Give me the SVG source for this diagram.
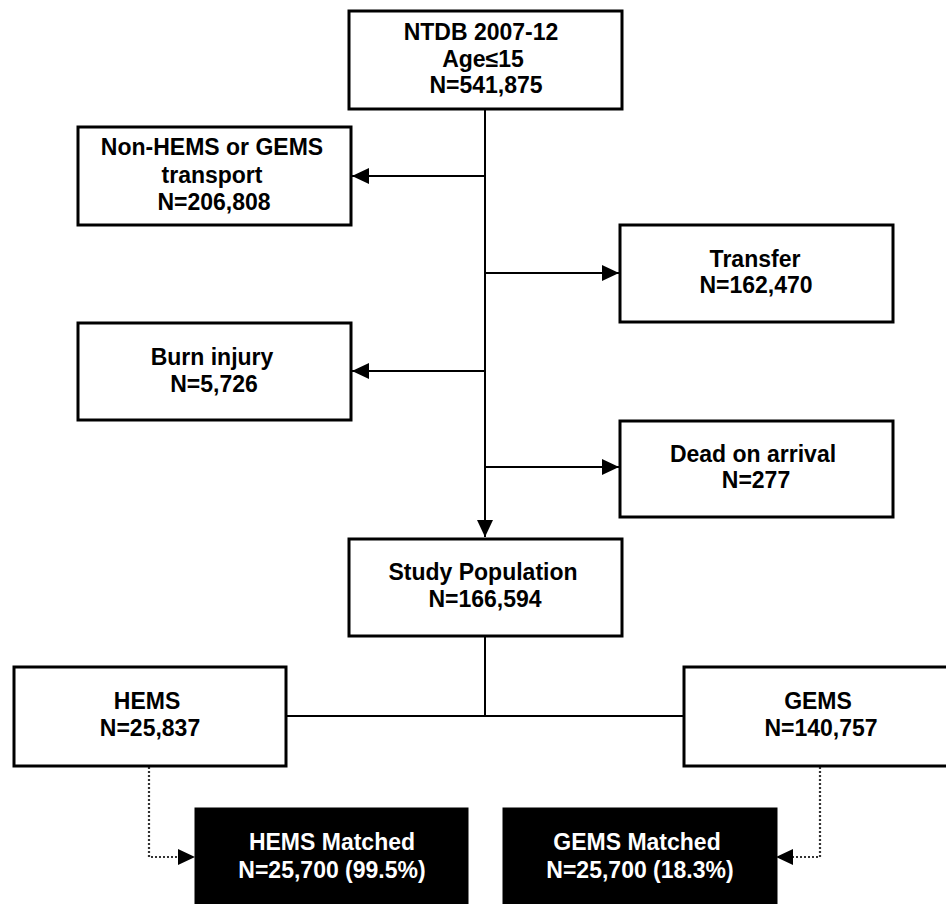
<svg xmlns="http://www.w3.org/2000/svg" width="946" height="904" viewBox="0 0 946 904">
<style>
.box{fill:#fff;stroke:#000;stroke-width:3}
.dark{fill:#000;stroke:#000;stroke-width:3}
.t{font-family:"Liberation Sans",Arial,sans-serif;font-weight:bold;font-size:23px;fill:#000;text-anchor:middle}
.w{fill:#fff}
.ln{fill:none;stroke:#000;stroke-width:2}
.dot{fill:none;stroke:#333;stroke-width:2.2;stroke-dasharray:2 2}
</style>
<defs>
<marker id="ah" markerUnits="userSpaceOnUse" markerWidth="17" markerHeight="16" refX="17" refY="8" orient="auto">
<path d="M0,0 L17,8 L0,16 Z" fill="#000"/>
</marker>
</defs>
<rect width="946" height="904" fill="#fff"/>
<g id="connectors">
<line class="ln" x1="485" y1="109" x2="485" y2="537" marker-end="url(#ah)"/>
<line class="ln" x1="485" y1="176" x2="352" y2="176" marker-end="url(#ah)"/>
<line class="ln" x1="485" y1="273" x2="619" y2="273" marker-end="url(#ah)"/>
<line class="ln" x1="485" y1="371" x2="352" y2="371" marker-end="url(#ah)"/>
<line class="ln" x1="485" y1="467" x2="619" y2="467" marker-end="url(#ah)"/>
<line class="ln" x1="485" y1="637" x2="485" y2="716"/>
<line class="ln" x1="286" y1="716" x2="683" y2="716"/>
<polyline class="dot" points="149,767 149,857 180,857"/>
<path d="M178,849 L195,857 L178,865 Z" fill="#000"/>
<polyline class="dot" points="820,767 820,857 790,857"/>
<path d="M793,849 L776,857 L793,865 Z" fill="#000"/>
</g>
<g id="ntdb">
<rect class="box" x="349" y="11" width="273" height="98"/>
<text class="t" x="481" y="40">NTDB 2007-12</text>
<text class="t" x="483" y="67">Age≤15</text>
<text class="t" x="486" y="93">N=541,875</text>
</g>
<g id="nonhems">
<rect class="box" x="78" y="127" width="273" height="98"/>
<text class="t" x="212" y="155">Non-HEMS or GEMS</text>
<text class="t" x="212" y="183">transport</text>
<text class="t" x="214" y="210">N=206,808</text>
</g>
<g id="transfer">
<rect class="box" x="620" y="225" width="273" height="97"/>
<text class="t" x="755" y="267">Transfer</text>
<text class="t" x="756" y="293">N=162,470</text>
</g>
<g id="burn">
<rect class="box" x="78" y="323" width="273" height="97"/>
<text class="t" x="212" y="365">Burn injury</text>
<text class="t" x="214" y="392">N=5,726</text>
</g>
<g id="dead">
<rect class="box" x="620" y="421" width="273" height="96"/>
<text class="t" x="753" y="462">Dead on arrival</text>
<text class="t" x="756" y="488">N=277</text>
</g>
<g id="study">
<rect class="box" x="349" y="539" width="273" height="97"/>
<text class="t" x="483" y="580">Study Population</text>
<text class="t" x="485" y="607">N=166,594</text>
</g>
<g id="hems">
<rect class="box" x="14" y="667" width="272" height="99"/>
<text class="t" x="147" y="709">HEMS</text>
<text class="t" x="150" y="736">N=25,837</text>
</g>
<g id="gems">
<rect class="box" x="684" y="667" width="270" height="99"/>
<text class="t" x="818" y="709">GEMS</text>
<text class="t" x="821" y="736">N=140,757</text>
</g>
<g id="hems-matched">
<rect class="dark" x="196" y="809" width="271" height="110"/>
<text class="t w" x="332" y="850">HEMS Matched</text>
<text class="t w" x="332" y="878">N=25,700 (99.5%)</text>
</g>
<g id="gems-matched">
<rect class="dark" x="504" y="809" width="272" height="110"/>
<text class="t w" x="637" y="850">GEMS Matched</text>
<text class="t w" x="640" y="878">N=25,700 (18.3%)</text>
</g>
</svg>
